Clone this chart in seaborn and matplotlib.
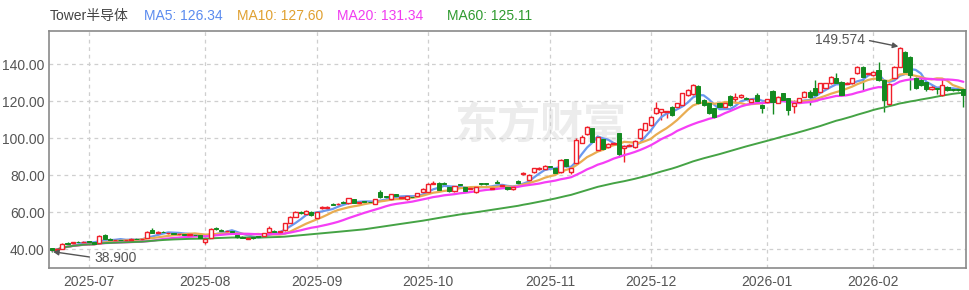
import numpy as np
import pandas as pd
import matplotlib
matplotlib.use("Agg")
import matplotlib.pyplot as plt
import seaborn as sns

# ---------------- data ----------------
title_text = "Tower半导体"
ma_labels = ["MA5: 126.34", "MA10: 127.60", "MA20: 131.34", "MA60: 125.11"]
ma_windows = [5, 10, 20, 60]
high_label = "149.574"
low_label = "38.900"

start_day = "2025-06-20"
end_day = "2026-02-26"
holidays = ["2025-07-04", "2025-09-01", "2025-11-27", "2025-12-25",
            "2026-01-01", "2026-01-19", "2026-02-16"]

open_ = [40.6, 39.6, 40.4, 43.6, 43.3, 44.2, 43.8, 44.5, 44.0, 43.6,
         47.8, 45.6, 45.0, 45.4, 44.9, 45.3, 45.8, 45.5, 46.3, 50.6,
         49.0, 49.7, 48.8, 48.9, 48.2, 48.4, 47.9, 48.1, 47.6, 44.2,
         46.4, 51.6, 50.8, 49.8, 49.9, 47.6, 46.9, 45.9, 46.6, 47.2,
         47.3, 49.7, 50.2, 49.4, 50.5, 54.5, 57.8, 60.3, 59.2, 60.4,
         56.8, 62.3, 62.5, 64.7, 64.4, 65.8, 65.0, 67.2, 65.4, 65.9,
         65.9, 64.7, 71.3, 68.8, 67.2, 69.8, 68.1, 67.2, 68.5, 69.1,
         71.0, 71.3, 75.6, 76.1, 76.0, 74.0, 71.6, 75.2, 73.6, 72.8,
         71.1, 75.8, 75.7, 72.8, 76.7, 74.5, 74.0, 72.5, 77.0, 80.8,
         77.4, 81.7, 83.5, 83.3, 85.0, 83.9, 82.1, 88.7, 82.1, 86.6,
         97.8, 102.2, 105.5, 93.8, 99.6, 95.2, 97.2, 102.8, 94.7, 96.2,
         95.2, 100.1, 104.6, 107.3, 113.6, 114.5, 114.2, 117.2, 117.2, 118.1,
         123.5, 123.9, 128.4, 120.8, 119.0, 116.3, 119.4, 116.9, 123.0, 121.2,
         122.2, 121.9, 119.6, 123.5, 118.1, 119.6, 125.9, 119.4, 124.4, 121.7,
         117.5, 119.9, 122.6, 125.3, 127.1, 125.3, 127.1, 129.8, 132.5, 130.7,
         129.5, 129.8, 135.2, 138.8, 134.8, 134.3, 137.0, 131.6, 118.5, 132.5,
         138.8, 146.9, 144.2, 132.8, 131.5, 130.5, 126.5, 127.5, 123.5, 127.8,
         126.8, 126.7, 126.5]
high = [40.9, 40.5, 43.3, 44.0, 44.2, 44.5, 44.6, 44.8, 44.3, 47.6,
        48.3, 46.0, 45.7, 45.8, 45.8, 46.0, 46.1, 46.3, 49.8, 51.5,
        50.0, 50.1, 49.5, 49.3, 48.9, 48.7, 48.6, 48.4, 47.8, 45.8,
        51.6, 52.2, 51.1, 50.6, 50.2, 47.9, 47.2, 46.6, 46.9, 47.5,
        49.0, 52.7, 50.5, 50.2, 54.5, 58.1, 60.9, 60.8, 61.4, 60.8,
        60.8, 63.5, 63.3, 65.0, 65.2, 66.1, 68.1, 67.5, 66.0, 66.2,
        66.2, 67.4, 72.2, 69.1, 70.1, 70.1, 68.8, 69.2, 68.8, 70.8,
        73.0, 75.8, 76.8, 76.5, 76.4, 74.3, 74.5, 75.5, 73.9, 73.6,
        73.9, 76.1, 76.0, 73.6, 77.6, 75.3, 74.3, 73.9, 77.3, 82.1,
        80.6, 84.2, 84.4, 85.5, 85.3, 84.2, 88.8, 89.0, 84.1, 100.0,
        101.9, 106.8, 105.9, 101.0, 100.0, 97.6, 98.1, 103.2, 96.3, 97.1,
        99.2, 105.7, 108.6, 112.2, 119.9, 116.2, 115.1, 117.6, 119.4, 124.8,
        126.6, 129.3, 128.8, 121.2, 119.4, 116.7, 119.8, 119.8, 123.4, 124.4,
        123.9, 122.3, 121.6, 124.4, 118.5, 121.6, 126.2, 123.0, 124.8, 122.0,
        121.0, 122.1, 125.7, 126.2, 131.6, 130.2, 130.2, 133.8, 135.2, 131.0,
        130.4, 132.9, 139.2, 139.2, 135.6, 136.5, 141.5, 132.0, 130.0, 139.2,
        149.574, 147.5, 144.6, 133.3, 132.5, 131.0, 129.0, 128.0, 132.5, 128.2,
        127.3, 127.2, 126.9]
low = [38.9, 39.3, 40.2, 42.8, 43.0, 43.5, 43.5, 43.8, 42.9, 43.4,
       45.2, 44.8, 44.7, 44.7, 44.6, 45.0, 45.2, 45.2, 46.0, 48.7,
       48.7, 48.9, 48.5, 48.2, 47.9, 47.7, 47.6, 47.3, 46.1, 42.8,
       46.2, 50.8, 49.9, 49.5, 49.0, 46.2, 46.0, 45.6, 45.9, 46.5,
       47.0, 49.4, 49.3, 49.1, 50.2, 54.2, 57.5, 59.4, 58.9, 58.3,
       56.3, 62.0, 62.1, 63.9, 64.1, 65.1, 64.8, 65.1, 65.1, 65.3,
       65.2, 64.4, 68.0, 68.1, 66.9, 68.4, 67.8, 66.9, 67.9, 68.8,
       70.7, 71.0, 75.3, 71.9, 75.2, 71.3, 71.3, 74.5, 71.1, 72.5,
       70.8, 75.0, 74.9, 72.5, 75.9, 74.2, 72.2, 72.2, 75.5, 80.5,
       77.1, 81.4, 83.2, 83.0, 84.3, 81.2, 81.2, 84.8, 80.8, 86.3,
       97.5, 101.9, 98.0, 93.5, 93.9, 94.9, 96.8, 90.2, 87.5, 95.8,
       94.9, 99.8, 104.3, 107.0, 113.3, 110.0, 110.9, 112.4, 116.9, 117.8,
       123.2, 123.6, 118.7, 117.8, 113.3, 110.9, 116.6, 116.6, 117.8, 119.4,
       121.9, 120.9, 119.3, 119.7, 113.9, 119.3, 113.2, 119.1, 120.7, 112.7,
       114.0, 119.6, 122.3, 118.1, 123.2, 125.0, 126.8, 129.5, 129.5, 123.2,
       129.2, 129.5, 134.9, 126.0, 134.4, 134.0, 131.3, 114.5, 117.8, 132.2,
       138.5, 135.8, 126.2, 126.8, 128.5, 125.5, 126.0, 124.0, 123.0, 125.8,
       125.5, 125.8, 117.0]
close = [39.6, 40.2, 43.0, 43.2, 43.8, 43.9, 44.3, 44.1, 43.2, 47.2,
         45.5, 45.1, 45.3, 45.0, 45.4, 45.6, 45.5, 45.9, 49.3, 49.0,
         49.6, 49.2, 49.1, 48.5, 48.5, 48.0, 48.2, 47.6, 46.4, 45.5,
         51.2, 51.1, 50.2, 50.2, 49.3, 46.5, 46.3, 46.3, 46.2, 46.8,
         48.7, 51.4, 49.6, 49.8, 54.1, 57.7, 60.4, 59.8, 61.0, 58.6,
         60.4, 63.1, 62.9, 64.3, 64.8, 65.4, 67.7, 65.4, 65.7, 65.6,
         65.5, 67.1, 68.3, 68.4, 69.8, 68.7, 68.4, 68.9, 68.2, 70.4,
         72.7, 75.4, 76.1, 72.2, 75.5, 71.6, 74.2, 74.8, 71.4, 73.2,
         73.6, 75.3, 75.2, 73.2, 76.2, 74.9, 72.5, 73.6, 75.8, 81.3,
         80.3, 83.9, 84.0, 85.1, 84.6, 81.5, 88.4, 85.1, 83.8, 99.2,
         101.0, 106.4, 98.3, 100.6, 94.2, 97.2, 97.7, 91.6, 95.9, 96.7,
         98.8, 105.3, 108.2, 111.8, 116.7, 115.8, 114.7, 112.7, 119.0, 124.4,
         126.2, 128.9, 119.0, 118.1, 113.6, 111.5, 116.9, 119.4, 118.1, 122.2,
         123.5, 121.2, 121.2, 120.0, 116.3, 121.2, 119.9, 122.6, 121.0, 115.4,
         119.2, 121.7, 125.3, 122.6, 123.5, 129.8, 129.8, 133.4, 129.8, 123.5,
         130.0, 132.5, 138.8, 133.4, 135.2, 136.1, 131.6, 120.8, 129.5, 138.8,
         148.8, 136.1, 134.3, 127.5, 129.0, 126.5, 128.0, 126.5, 128.8, 126.2,
         126.0, 126.2, 123.5]

# ---------------- style ----------------
sns.set_style("white")
plt.rcParams["font.family"] = ["Liberation Sans", "Noto Sans CJK SC", "DejaVu Sans"]

RED = "#f0202a"
GREEN = "#138a20"
MA_COLORS = ["#6a98ef", "#e9ad52", "#f53ef5", "#45a345"]
MA_TEXT_COLORS = ["#5b8bef", "#e0a030", "#f03cf0", "#2f9a2f"]
TXT = "#555555"

dates = pd.bdate_range(start_day, end_day, freq="C", holidays=holidays)
n = min(len(dates), len(close))
dates = dates[:n]
df = pd.DataFrame({
    "idx": np.arange(n),
    "open": open_[:n], "high": high[:n], "low": low[:n], "close": close[:n],
    "date": dates,
})
for w in ma_windows:
    df[f"MA{w}"] = df["close"].rolling(w, min_periods=1).mean()

fig = plt.figure(figsize=(9.7, 2.9), dpi=100)
ax = fig.add_axes([49 / 970, 1 - 268 / 290, 917 / 970, 237 / 290])

# watermark
ax.text(0.5365, 0.60, "东方财富", transform=ax.transAxes, ha="center", va="center",
        fontsize=31, fontweight="bold", color="#ececec", zorder=0,
        family=["Noto Sans CJK SC"])

# candles
x = df["idx"].to_numpy()
o = df["open"].to_numpy()
c = df["close"].to_numpy()
h = df["high"].to_numpy()
l = df["low"].to_numpy()
up = c >= o
cols = np.where(up, RED, GREEN)
ax.vlines(x, l, h, colors=cols, linewidth=1.0, zorder=2)
bottom = np.minimum(o, c)
height = np.maximum(np.abs(c - o), 0.35)
ax.bar(x[up], height[up], bottom=bottom[up], width=0.78, facecolor="white",
       edgecolor=RED, linewidth=1.0, zorder=4)
ax.bar(x[~up], height[~up], bottom=bottom[~up], width=0.78, facecolor=GREEN,
       edgecolor=GREEN, linewidth=0.7, zorder=4)

# moving averages
for w, col in zip(ma_windows, MA_COLORS):
    sns.lineplot(data=df, x="idx", y=f"MA{w}", ax=ax, color=col,
                 linewidth=1.6 if w != 60 else 1.4, legend=False, zorder=3)

# axes
ax.set_xlim(-0.5, n - 0.5)
ax.set_ylim(30, 158.1)
month_key = df["date"].dt.strftime("%Y-%m")
first_idx = df.groupby(month_key)["idx"].min()
first_idx = first_idx.iloc[1:]
ax.set_xticks(first_idx.to_numpy())
ax.set_xticklabels(first_idx.index.tolist())
yt = [40, 60, 80, 100, 120, 140]
ax.set_yticks(yt)
ax.set_yticklabels([f"{v:.2f}" for v in yt])
ax.tick_params(axis="both", length=0, labelsize=10, labelcolor=TXT)
ax.tick_params(axis="y", pad=3)
ax.tick_params(axis="x", pad=5)
ax.set_xlabel("")
ax.set_ylabel("")
ax.grid(True, color="#cfcfcf", linestyle=(0, (3, 3)), linewidth=0.9)
ax.set_axisbelow(True)
for s in ax.spines.values():
    s.set_color("#8a8a8a")
    s.set_linewidth(1.2)

# annotations of the extremes
ax.annotate(high_label, xy=(160, 149.574), xytext=(144.0, 153.4), textcoords="data",
            ha="left", va="center", fontsize=10, color=TXT,
            arrowprops=dict(arrowstyle="-|>", color="#555555", lw=1.0,
                            shrinkA=1, shrinkB=1, mutation_scale=8, relpos=(1, 0.5)),
            zorder=6)
ax.annotate(low_label, xy=(0, 38.9), xytext=(8.0, 35.6), textcoords="data",
            ha="left", va="center", fontsize=10, color=TXT,
            arrowprops=dict(arrowstyle="-|>", color="#555555", lw=1.0,
                            shrinkA=1, shrinkB=1, mutation_scale=8, relpos=(0, 0.5)),
            zorder=6)

# header legend row
yh = 1 - 16 / 290
fig.text(50 / 970, yh, title_text, ha="left", va="center", fontsize=10, color="#444444")
xs = [144, 237, 337, 447]
for xp, lab, col in zip(xs, ma_labels, MA_TEXT_COLORS):
    fig.text(xp / 970, yh, lab, ha="left", va="center", fontsize=10, color=col)

fig.savefig("out.png", dpi=100)
